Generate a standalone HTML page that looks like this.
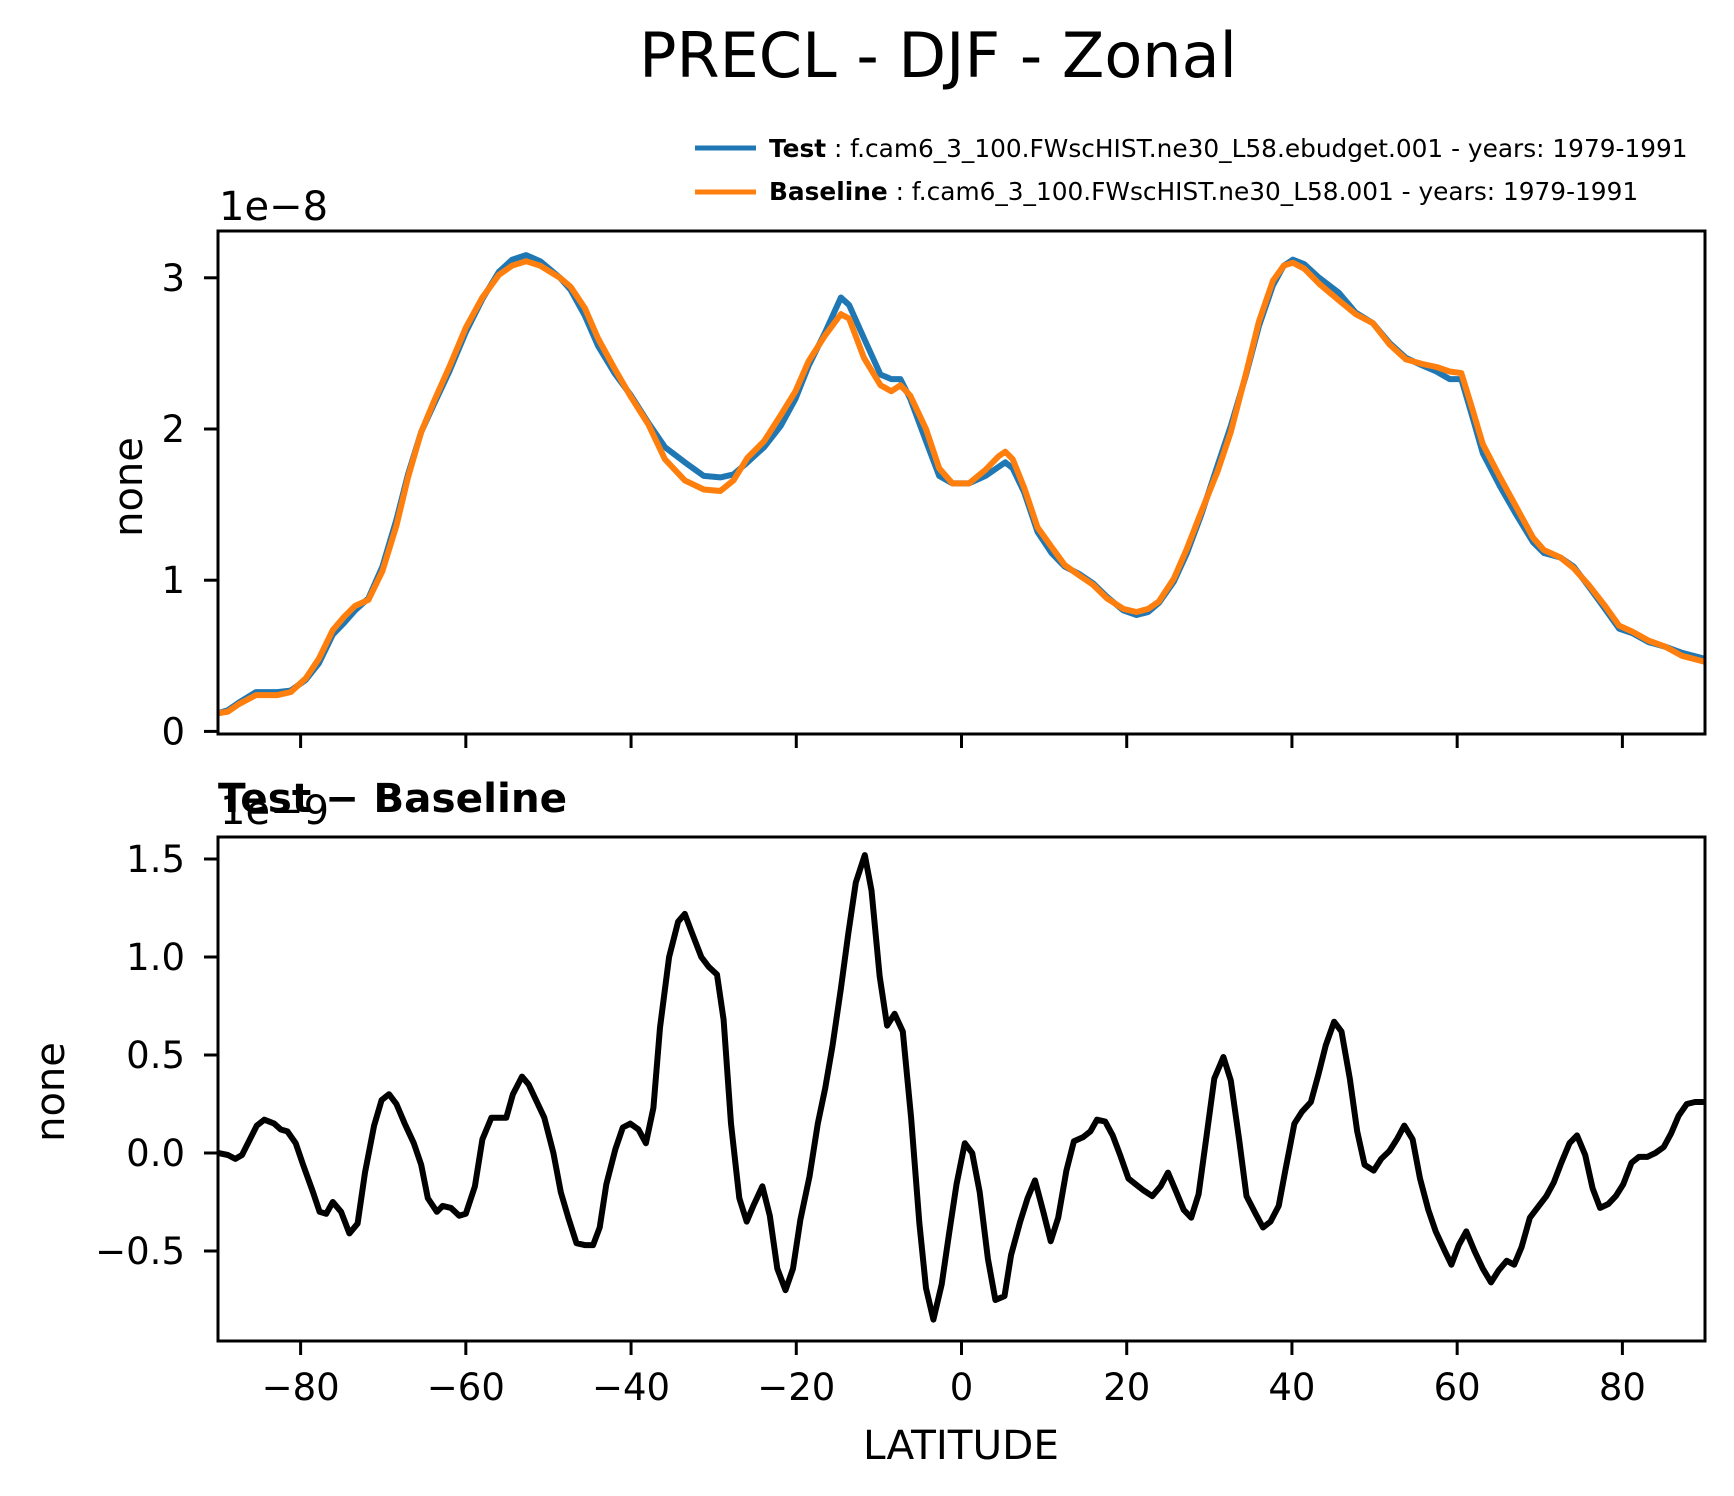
<!DOCTYPE html>
<html><head><meta charset="utf-8">
<style>
html,body{margin:0;padding:0;background:#fff;}
svg{display:block;font-family:"DejaVu Sans","Liberation Sans",sans-serif;}
</style></head>
<body>
<svg id="fig" width="1734" height="1496" viewBox="0 0 1734 1496" xmlns="http://www.w3.org/2000/svg">
<rect width="1734" height="1496" fill="#fff"/>
<text x="938" y="77" font-size="62" text-anchor="middle">PRECL - DJF - Zonal</text>
<g>
<line x1="695" y1="148" x2="756" y2="148" stroke="#1f77b4" stroke-width="5"/>
<text x="769" y="157" font-size="24.8"><tspan font-weight="bold">Test</tspan> : f.cam6_3_100.FWscHIST.ne30_L58.ebudget.001 - years: 1979-1991</text>
<line x1="695" y1="192" x2="756" y2="192" stroke="#ff7f0e" stroke-width="5"/>
<text x="769" y="200" font-size="24.8"><tspan font-weight="bold">Baseline</tspan> : f.cam6_3_100.FWscHIST.ne30_L58.001 - years: 1979-1991</text>
</g>
<text x="219" y="220" font-size="40">1e−8</text>
<text x="220" y="824" font-size="40">1e−9</text>
<text x="218" y="812" font-size="40.5" font-weight="bold">Test − Baseline</text>
<text transform="translate(142,487) rotate(-90)" font-size="40" text-anchor="middle">none</text>
<text transform="translate(64,1092) rotate(-90)" font-size="40" text-anchor="middle">none</text>
<text x="961" y="1459" font-size="40.5" text-anchor="middle">LATITUDE</text>
<g id="top"></g>
<g id="bot"></g>
</svg>
<script>
const topLat = [-90,-88.8,-87.5,-85.4,-82.8,-81.2,-79.4,-77.8,-76.1,-74.7,-73.4,-71.8,-70.1,-68.4,-67,-65.4,-63.8,-62,-60,-58,-56,-54.4,-52.7,-51,-48.6,-47.3,-45.6,-44,-42,-40,-37.9,-35.9,-33.5,-31.2,-29.2,-27.6,-25.9,-23.9,-21.9,-20.1,-18.5,-16.5,-14.6,-13.6,-11.8,-9.8,-8.5,-7.4,-6.2,-4.3,-2.7,-1.1,0.9,2.9,4.5,5.3,6.2,7.6,9.2,10.9,12.5,14.3,15.9,17.6,19.6,21.2,22.6,23.9,25.7,27.3,29,31,32.6,34.4,36,37.7,39,40.1,41.5,43.3,45.7,47.7,49.8,51.8,53.8,55.8,57.5,59.1,60.5,61.8,63.1,65.2,67.2,69.2,70.5,72.5,74.1,75.9,77.9,79.6,81.2,83.2,85.2,87.2,90];
const testVals = [0.12,0.14,0.19,0.26,0.26,0.27,0.34,0.45,0.64,0.72,0.8,0.88,1.09,1.4,1.7,1.98,2.17,2.38,2.64,2.86,3.04,3.12,3.15,3.11,3.0,2.92,2.75,2.55,2.37,2.22,2.04,1.88,1.78,1.69,1.68,1.7,1.78,1.88,2.02,2.2,2.42,2.64,2.87,2.82,2.6,2.36,2.33,2.33,2.2,1.92,1.69,1.64,1.64,1.69,1.75,1.78,1.74,1.58,1.32,1.18,1.09,1.04,0.98,0.89,0.8,0.77,0.79,0.85,0.99,1.18,1.43,1.76,2.02,2.35,2.68,2.95,3.08,3.12,3.09,3.0,2.9,2.77,2.7,2.57,2.47,2.42,2.38,2.33,2.33,2.09,1.84,1.62,1.43,1.25,1.18,1.15,1.09,0.96,0.81,0.68,0.65,0.59,0.56,0.52,0.48];
const baseVals = [0.12,0.13,0.18,0.24,0.24,0.26,0.35,0.48,0.67,0.76,0.83,0.87,1.06,1.36,1.68,1.98,2.19,2.41,2.67,2.87,3.02,3.08,3.11,3.08,3.0,2.94,2.8,2.6,2.4,2.21,2.03,1.8,1.66,1.6,1.59,1.66,1.81,1.92,2.09,2.25,2.45,2.62,2.76,2.73,2.47,2.29,2.25,2.29,2.22,2.0,1.74,1.64,1.64,1.73,1.82,1.85,1.8,1.61,1.35,1.22,1.1,1.03,0.97,0.88,0.81,0.79,0.81,0.86,1.01,1.21,1.45,1.72,1.98,2.36,2.71,2.98,3.08,3.1,3.06,2.96,2.85,2.76,2.7,2.56,2.46,2.43,2.41,2.38,2.37,2.14,1.9,1.68,1.48,1.28,1.2,1.15,1.08,0.97,0.83,0.7,0.66,0.6,0.56,0.5,0.46];
const diffLat = [-90,-88.8,-87.9,-87.1,-85.3,-84.4,-83.2,-82.4,-81.6,-80.6,-79.7,-78.5,-77.7,-76.9,-76.1,-75.1,-74.1,-73.1,-72.2,-71.1,-70.2,-69.3,-68.4,-67.4,-66.3,-65.4,-64.6,-63.5,-62.8,-61.8,-60.8,-60,-58.9,-58,-56.9,-56,-55.1,-54.3,-53.2,-52.4,-51.4,-50.5,-49.4,-48.5,-47.6,-46.6,-45.6,-44.6,-43.8,-43,-41.9,-41,-40.1,-39.1,-38.2,-37.3,-36.5,-35.4,-34.3,-33.5,-32.6,-31.5,-30.6,-29.6,-28.8,-27.9,-26.9,-26,-25.2,-24.1,-23.2,-22.3,-21.3,-20.4,-19.5,-18.4,-17.4,-16.5,-15.6,-14.6,-13.7,-12.8,-11.7,-10.9,-9.9,-9,-8.1,-7.1,-6.1,-5.1,-4.3,-3.4,-2.4,-1.5,-0.6,0.4,1.3,2.2,3.2,4.1,5.2,6,7.1,8,8.9,9.9,10.8,11.7,12.7,13.6,14.7,15.6,16.4,17.4,18.3,19.2,20.2,21.1,22,23.1,24.1,25,25.9,26.9,27.8,28.7,29.7,30.6,31.7,32.6,33.6,34.5,35.6,36.5,37.4,38.4,39.2,40.3,41.2,42.3,43.2,44.1,45.1,46,47,47.9,48.8,49.9,50.8,51.8,52.7,53.6,54.6,55.5,56.5,57.4,58.5,59.3,60.2,61.1,62.1,63.1,64.1,65,66,66.9,67.8,68.8,69.7,70.8,71.7,72.6,73.6,74.5,75.5,76.4,77.3,78.3,79.2,80.1,81.1,82,83,84,85,85.9,86.8,87.8,88.8,90];
const diffVals = [0,-0.01,-0.03,-0.01,0.14,0.17,0.15,0.12,0.11,0.05,-0.06,-0.2,-0.3,-0.31,-0.25,-0.3,-0.41,-0.36,-0.1,0.14,0.27,0.3,0.25,0.15,0.05,-0.06,-0.23,-0.3,-0.27,-0.28,-0.32,-0.31,-0.17,0.07,0.18,0.18,0.18,0.3,0.39,0.35,0.26,0.18,0,-0.2,-0.33,-0.46,-0.47,-0.47,-0.38,-0.16,0.02,0.13,0.15,0.12,0.05,0.23,0.64,1.0,1.18,1.22,1.12,1.0,0.95,0.91,0.68,0.15,-0.23,-0.35,-0.27,-0.17,-0.32,-0.59,-0.7,-0.59,-0.34,-0.12,0.15,0.33,0.55,0.84,1.12,1.38,1.52,1.34,0.9,0.65,0.71,0.62,0.18,-0.36,-0.69,-0.85,-0.67,-0.41,-0.16,0.05,0,-0.2,-0.54,-0.75,-0.73,-0.52,-0.35,-0.23,-0.14,-0.3,-0.45,-0.33,-0.09,0.06,0.08,0.11,0.17,0.16,0.09,-0.01,-0.13,-0.16,-0.19,-0.22,-0.17,-0.1,-0.19,-0.29,-0.33,-0.21,0.1,0.38,0.49,0.37,0.07,-0.22,-0.31,-0.38,-0.35,-0.27,-0.09,0.15,0.21,0.26,0.4,0.55,0.67,0.62,0.38,0.11,-0.06,-0.09,-0.03,0.01,0.07,0.14,0.07,-0.13,-0.29,-0.4,-0.5,-0.57,-0.47,-0.4,-0.5,-0.59,-0.66,-0.6,-0.55,-0.57,-0.48,-0.33,-0.28,-0.22,-0.15,-0.05,0.05,0.09,-0.01,-0.18,-0.28,-0.26,-0.22,-0.16,-0.05,-0.02,-0.02,0,0.03,0.1,0.19,0.25,0.26,0.26];
const xTicks = [-80,-60,-40,-20,0,20,40,60,80];
const topTicks = [0,1,2,3];
const topTickLabels = ["0","1","2","3"];
const botTicks = [-0.5,0,0.5,1.0,1.5];
const botTickLabels = ["−0.5","0.0","0.5","1.0","1.5"];

const NS = "http://www.w3.org/2000/svg";
const L = 218, R = 1705;
const xs = v => L + (v + 90) / 180 * (R - L);
const yTop = v => 731.4 - v * 151.2;
const yBot = v => 1153 - v * 196;
function mk(tag, attrs, parent) {
  const e = document.createElementNS(NS, tag);
  for (const k in attrs) e.setAttribute(k, attrs[k]);
  parent.appendChild(e);
  return e;
}
function panel(g, top, bottom, ticks, labels, yf, showX, name) {
  const clipId = name + "-clip";
  const cp = mk("clipPath", {id: clipId}, g);
  mk("rect", {x: L, y: top, width: R - L, height: bottom - top}, cp);
  xTicks.forEach(t => {
    const tk = mk("line", {x1: xs(t), x2: xs(t), y1: bottom, y2: bottom + 14, stroke: "#000", "stroke-width": 3}, g);
    
    
    if (showX) {
      const tx = mk("text", {x: xs(t), y: 1400, "font-size": 37, "text-anchor": "middle"}, g);
      tx.textContent = (t < 0 ? "−" + (-t) : "" + t);
      
      
    }
  });
  ticks.forEach((t, i) => {
    const y = yf(t);
    const tk = mk("line", {x1: L - 14, x2: L, y1: y, y2: y, stroke: "#000", "stroke-width": 3}, g);
    
    
    const tx = mk("text", {x: 185, y: y + 13, "font-size": 37, "text-anchor": "end"}, g);
    tx.textContent = labels[i];
    
    
  });
  return clipId;
}
function line(g, lats, vals, yf, color, w, clipId, name) {
  const d = lats.map((la, i) => (i ? "L" : "M") + xs(la).toFixed(1) + "," + yf(vals[i]).toFixed(1)).join("");
  const p = mk("path", {d: d, fill: "none", stroke: color, "stroke-width": w, "stroke-linejoin": "round", "clip-path": "url(#" + clipId + ")"}, g);
  
  
}
const gt = document.getElementById("top");


const c1 = panel(gt, 231, 734, topTicks, topTickLabels, yTop, false, "top");
line(gt, topLat, testVals, yTop, "#1f77b4", 6, c1, "test-line");
line(gt, topLat, baseVals, yTop, "#ff7f0e", 6, c1, "baseline-line");
const f1 = mk("rect", {x: L, y: 231, width: R - L, height: 503, fill: "none", stroke: "#000", "stroke-width": 3}, gt);



const gb = document.getElementById("bot");


const c2 = panel(gb, 837, 1341, botTicks, botTickLabels, yBot, true, "bottom");
line(gb, diffLat, diffVals, yBot, "#000", 6, c2, "difference-line");
const f2 = mk("rect", {x: L, y: 837, width: R - L, height: 504, fill: "none", stroke: "#000", "stroke-width": 3}, gb);


</script>
</body></html>
